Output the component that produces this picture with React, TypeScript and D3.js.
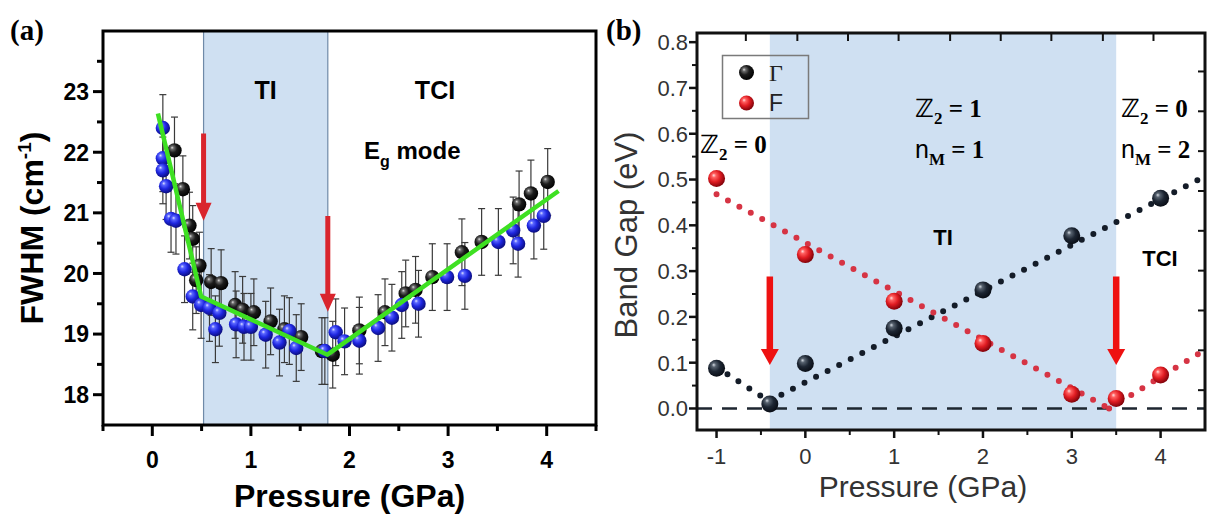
import React from 'react';
import * as d3 from 'd3';

const W = 1211;
const H = 519;
const SANS = "'Liberation Sans', Arial, Helvetica, sans-serif";
const SERIF = "'Liberation Serif', 'Times New Roman', 'DejaVu Serif', serif";
const DS = "'DejaVu Serif', 'DejaVu Sans', serif";

// ---------- Panel (a) data ----------
const aBlack: [number, number][] = [
  [0.225, 22.03], [0.31, 21.39], [0.377, 20.79], [0.41, 20.57], [0.478, 20.13],
  [0.445, 19.89], [0.597, 19.86], [0.698, 19.84], [0.84, 19.48], [0.916, 19.4],
  [1.03, 19.36], [1.2, 19.21], [1.34, 19.08], [1.51, 18.95], [1.72, 18.72],
  [1.83, 18.66], [2.1, 19.06], [2.36, 19.36], [2.57, 19.67], [2.67, 19.73],
  [2.84, 19.94], [3.14, 20.35], [3.34, 20.52], [3.72, 21.14], [3.84, 21.32], [4.01, 21.51],
];
const aBlue: [number, number][] = [
  [0.107, 22.4], [0.107, 21.9], [0.107, 21.7], [0.14, 21.44], [0.19, 20.9], [0.24, 20.87],
  [0.327, 20.07], [0.41, 19.62], [0.495, 19.48], [0.58, 19.43], [0.68, 19.35], [0.64, 19.08],
  [0.85, 19.16], [0.93, 19.12], [1.0, 19.12], [1.15, 18.99], [1.29, 18.86], [1.39, 19.05],
  [1.46, 18.77], [1.75, 18.72], [1.86, 19.03], [1.95, 18.88], [2.1, 18.89], [2.29, 19.1],
  [2.43, 19.27], [2.53, 19.48], [2.7, 19.5], [2.99, 19.94], [3.17, 19.96], [3.51, 20.52],
  [3.66, 20.71], [3.71, 20.49], [3.87, 20.79], [3.97, 20.95],
];
const aErr = 0.55;
const aFit: [number, number][] = [[0.057, 22.64], [0.495, 19.62], [1.776, 18.66], [4.12, 21.36]];
const aShade: [number, number] = [0.52, 1.78];
const aArrows = [
  { x: 0.52, from: 22.31, to: 20.87 },
  { x: 1.78, from: 20.95, to: 19.37 },
];
const aXTicks = [0, 1, 2, 3, 4];
const aXMinor = [-0.5, 0.5, 1.5, 2.5, 3.5, 4.5];
const aYTicks = [18, 19, 20, 21, 22, 23];
const aYMinor = [18.5, 19.5, 20.5, 21.5, 22.5, 23.5];

// ---------- Panel (b) data ----------
const gammaX = [-1, -0.4, 0, 1, 2, 3, 4];
const gammaY = [0.088, 0.01, 0.098, 0.175, 0.259, 0.377, 0.459];
const fX = [-1, 0, 1, 2, 3, 3.5, 4];
const fY = [0.502, 0.336, 0.234, 0.142, 0.031, 0.022, 0.073];
const gammaFits: [number, number][][] = [
  [[-1, 0.09], [-0.4, 0.015]],
  [[-0.4, 0.017], [4.5, 0.507]],
];
const fFits: [number, number][][] = [
  [[-1, 0.468], [3.42, 0.0]],
  [[3.42, 0.0], [4.5, 0.128]],
];
const bShade: [number, number] = [-0.4, 3.5];
const bArrows = [
  { x: -0.4, from: 0.288, to: 0.095 },
  { x: 3.5, from: 0.288, to: 0.095 },
];
const bXTicks = [-1, 0, 1, 2, 3, 4];
const bXMinor = [-0.5, 0.5, 1.5, 2.5, 3.5];
const bYTicks = [0, 0.1, 0.2, 0.3, 0.4, 0.5, 0.6, 0.7, 0.8];
const bYMinor = [0.05, 0.15, 0.25, 0.35, 0.45, 0.55, 0.65, 0.75];
const bTopTicks = [-0.67, -0.09, 0.48, 1.05, 1.63, 2.2, 2.77, 3.35, 3.92];
const bRightTicks = [0.04, 0.127, 0.214, 0.301, 0.388, 0.475, 0.562, 0.649, 0.736];

// ---------- scales ----------
const xA = d3.scaleLinear().domain([-0.5, 4.5]).range([103, 596]);
const yA = d3.scaleLinear().domain([17.5, 24]).range([425, 31]);
const xB = d3.scaleLinear().domain([-1.22, 4.5]).range([697, 1205]);
const yB = d3.scaleLinear().domain([-0.047, 0.82]).range([430, 33]);

function arrowPath(x: number, y0: number, y1: number, shaft: number, headW: number, headL: number) {
  const p = d3.path();
  p.moveTo(x - shaft / 2, y0);
  p.lineTo(x + shaft / 2, y0);
  p.lineTo(x + shaft / 2, y1 - headL);
  p.lineTo(x + headW / 2, y1 - headL);
  p.lineTo(x, y1);
  p.lineTo(x - headW / 2, y1 - headL);
  p.lineTo(x - shaft / 2, y1 - headL);
  p.closePath();
  return p.toString();
}

function Grad({ id, stops }: { id: string; stops: [number, string][] }) {
  return (
    <radialGradient id={id} cx="0.42" cy="0.4" r="0.62" fx="0.33" fy="0.3">
      {stops.map(([o, c], i) => (
        <stop key={i} offset={o} stopColor={c} />
      ))}
    </radialGradient>
  );
}

function Z2({ x, y, v }: { x: number; y: number; v: string }) {
  return (
    <text x={x} y={y} fontFamily={SERIF} fontWeight="bold" fontSize={25}>
      <tspan fontFamily={DS}>ℤ</tspan><tspan dy={7} fontSize={17}>2</tspan><tspan dy={-7}> = {v}</tspan>
    </text>
  );
}

function NM({ x, y, v }: { x: number; y: number; v: string }) {
  return (
    <text x={x} y={y} fontFamily={SERIF} fontWeight="bold" fontSize={25}>
      <tspan fontFamily={SANS} fontWeight="normal">n</tspan><tspan dy={7} fontSize={17}>M</tspan><tspan dy={-7}> = {v}</tspan>
    </text>
  );
}

export default function App() {
  const lineA = d3.line<[number, number]>().x((d) => xA(d[0])).y((d) => yA(d[1]));
  const lineB = d3.line<[number, number]>().x((d) => xB(d[0])).y((d) => yB(d[1]));
  const aL = xA.range()[0], aR = xA.range()[1], aT = yA.range()[1], aBt = yA.range()[0];
  const bL = xB.range()[0], bR = xB.range()[1], bT = yB.range()[1], bBt = yB.range()[0];

  return (
    <svg width={W} height={H} style={{ position: 'absolute', left: 0, top: 0, background: '#fff' }}>
      <defs>
        <Grad id="gBlack" stops={[[0, '#e0e0e0'], [0.18, '#6a6a6a'], [0.5, '#1c1c1c'], [1, '#000']]} />
        <Grad id="gBlue" stops={[[0, '#dfe2ff'], [0.2, '#5a66ff'], [0.55, '#1e26e0'], [1, '#0a0c78']]} />
        <Grad id="gNavy" stops={[[0, '#d4dae2'], [0.2, '#56616e'], [0.55, '#1d2633'], [1, '#080c14']]} />
        <Grad id="gRed" stops={[[0, '#ffe0e0'], [0.2, '#ff6060'], [0.55, '#e01c22'], [1, '#7a0008']]} />
        <clipPath id="clipA"><rect x={aL} y={aT} width={aR - aL} height={aBt - aT} /></clipPath>
        <clipPath id="clipB"><rect x={bL} y={bT} width={bR - bL} height={bBt - bT} /></clipPath>
      </defs>

      {/* ================= Panel (a) ================= */}
      <text x={10} y={40} fontFamily={SERIF} fontWeight="bold" fontSize={29}>(a)</text>
      <rect x={xA(aShade[0])} y={aT} width={xA(aShade[1]) - xA(aShade[0])} height={aBt - aT} fill="#cfe0f2" />
      {aShade.map((v, i) => (
        <line key={i} x1={xA(v)} x2={xA(v)} y1={aT} y2={aBt} stroke="#6f8aa8" strokeWidth={1.2} />
      ))}

      <g clipPath="url(#clipA)">
        {[...aBlack, ...aBlue].map(([x, y], i) => (
          <g key={i} stroke="#3a3a3a" strokeWidth={1.2}>
            <line x1={xA(x)} x2={xA(x)} y1={yA(y - aErr)} y2={yA(y + aErr)} />
            <line x1={xA(x) - 3.5} x2={xA(x) + 3.5} y1={yA(y - aErr)} y2={yA(y - aErr)} />
            <line x1={xA(x) - 3.5} x2={xA(x) + 3.5} y1={yA(y + aErr)} y2={yA(y + aErr)} />
          </g>
        ))}
        {aBlack.map(([x, y], i) => (
          <circle key={'k' + i} cx={xA(x)} cy={yA(y)} r={7.2} fill="url(#gBlack)" />
        ))}
        {aBlue.map(([x, y], i) => (
          <circle key={'b' + i} cx={xA(x)} cy={yA(y)} r={7.2} fill="url(#gBlue)" />
        ))}
        <path d={lineA(aFit) || ''} fill="none" stroke="#3ee022" strokeWidth={4.5} strokeLinejoin="round" />
      </g>
      {aArrows.map((a, i) => (
        <path key={i} d={arrowPath(xA(a.x), yA(a.from), yA(a.to), 5, 16, 18)} fill="#d9252d" />
      ))}

      <text x={(xA(aShade[0]) + xA(aShade[1])) / 2} y={99} textAnchor="middle" fontFamily={SANS} fontWeight="bold" fontSize={25}>TI</text>
      <text x={435} y={99} textAnchor="middle" fontFamily={SANS} fontWeight="bold" fontSize={25}>TCI</text>
      <text x={364} y={159} fontFamily={SANS} fontWeight="bold" fontSize={24}>
        E<tspan dy={8} fontSize={16}>g</tspan><tspan dy={-8}> mode</tspan>
      </text>

      {/* axes a */}
      <rect x={aL} y={aT} width={aR - aL} height={aBt - aT} fill="none" stroke="#000" strokeWidth={3} />
      {aYTicks.map((t) => (
        <g key={t}>
          <line x1={aL - 10} x2={aL} y1={yA(t)} y2={yA(t)} stroke="#000" strokeWidth={3} />
          <text x={aL - 14} y={yA(t)} dy="0.36em" textAnchor="end" fontFamily={SANS} fontWeight="bold" fontSize={23}>{t}</text>
        </g>
      ))}
      {aYMinor.map((t) => (
        <line key={t} x1={aL - 6} x2={aL} y1={yA(t)} y2={yA(t)} stroke="#000" strokeWidth={3} />
      ))}
      {aXTicks.map((t) => (
        <g key={t}>
          <line x1={xA(t)} x2={xA(t)} y1={aBt} y2={aBt + 11} stroke="#000" strokeWidth={3} />
          <text x={xA(t)} y={468} textAnchor="middle" fontFamily={SANS} fontWeight="bold" fontSize={23}>{t}</text>
        </g>
      ))}
      {aXMinor.map((t) => (
        <line key={t} x1={xA(t)} x2={xA(t)} y1={aBt} y2={aBt + 6} stroke="#000" strokeWidth={3} />
      ))}
      <text x={(aL + aR) / 2} y={507} textAnchor="middle" fontFamily={SANS} fontWeight="bold" fontSize={32}>Pressure (GPa)</text>
      <text transform={`translate(43, ${(aT + aBt) / 2}) rotate(-90)`} textAnchor="middle" fontFamily={SANS} fontWeight="bold" fontSize={32}>
        FWHM (cm<tspan dy={-12} fontSize={19}>-1</tspan><tspan dy={12}>)</tspan>
      </text>

      {/* ================= Panel (b) ================= */}
      <text x={606} y={40} fontFamily={SERIF} fontWeight="bold" fontSize={29}>(b)</text>
      <rect x={xB(bShade[0])} y={bT} width={xB(bShade[1]) - xB(bShade[0])} height={bBt - bT} fill="#cfe0f2" />

      <g clipPath="url(#clipB)">
        <line x1={bL} x2={bR} y1={yB(0)} y2={yB(0)} stroke="#1e2630" strokeWidth={2.5} strokeDasharray="15 10" />
        {gammaFits.map((seg, i) => (
          <path key={'gf' + i} d={lineB(seg) || ''} fill="none" stroke="#141c28" strokeWidth={6} strokeLinecap="round" strokeDasharray="0 13" />
        ))}
        {fFits.map((seg, i) => (
          <path key={'ff' + i} d={lineB(seg) || ''} fill="none" stroke="#d63444" strokeWidth={6} strokeLinecap="round" strokeDasharray="0 13" />
        ))}
        {gammaX.map((x, i) => (
          <circle key={'g' + i} cx={xB(x)} cy={yB(gammaY[i])} r={8.5} fill="url(#gNavy)" />
        ))}
        {fX.map((x, i) => (
          <circle key={'f' + i} cx={xB(x)} cy={yB(fY[i])} r={8.5} fill="url(#gRed)" />
        ))}
      </g>
      {bArrows.map((a, i) => (
        <path key={i} d={arrowPath(xB(a.x), yB(a.from), yB(a.to), 6.5, 18, 16)} fill="#ee1111" />
      ))}

      {/* legend */}
      <rect x={722.5} y={55.5} width={86} height={63} fill="none" stroke="#7a7a7a" strokeWidth={1.5} />
      <circle cx={746.5} cy={72.5} r={7.5} fill="url(#gBlack)" />
      <circle cx={746.5} cy={103} r={7.5} fill="url(#gRed)" />
      <text x={769} y={81} fontFamily={SERIF} fontSize={24} fill="#222">Γ</text>
      <text x={769} y={111} fontFamily={SANS} fontSize={23} fill="#222">F</text>

      {/* topological labels */}
      <Z2 x={700} y={153} v="0" />
      <Z2 x={915} y={117} v="1" />
      <NM x={915} y={158} v="1" />
      <Z2 x={1121} y={117} v="0" />
      <NM x={1121} y={158} v="2" />
      <text x={943} y={245} textAnchor="middle" fontFamily={SANS} fontWeight="bold" fontSize={22}>TI</text>
      <text x={1160} y={266} textAnchor="middle" fontFamily={SANS} fontWeight="bold" fontSize={22}>TCI</text>

      {/* axes b */}
      <rect x={bL} y={bT} width={bR - bL} height={bBt - bT} fill="none" stroke="#111" strokeWidth={3} />
      {bYTicks.map((t) => (
        <g key={t}>
          <line x1={bL - 8} x2={bL} y1={yB(t)} y2={yB(t)} stroke="#111" strokeWidth={2.5} />
          <text x={bL - 9} y={yB(t)} dy="0.36em" textAnchor="end" fontFamily={SANS} fontSize={22} fill="#333">{t.toFixed(1)}</text>
        </g>
      ))}
      {bYMinor.map((t) => (
        <line key={t} x1={bL - 5} x2={bL} y1={yB(t)} y2={yB(t)} stroke="#111" strokeWidth={2} />
      ))}
      {bXTicks.map((t) => (
        <g key={t}>
          <line x1={xB(t)} x2={xB(t)} y1={bBt} y2={bBt + 8} stroke="#111" strokeWidth={2.5} />
          <text x={xB(t)} y={464} textAnchor="middle" fontFamily={SANS} fontSize={22} fill="#333">{t}</text>
        </g>
      ))}
      {bXMinor.map((t) => (
        <line key={t} x1={xB(t)} x2={xB(t)} y1={bBt} y2={bBt + 5} stroke="#111" strokeWidth={2} />
      ))}
      {bTopTicks.map((t) => (
        <line key={t} x1={xB(t)} x2={xB(t)} y1={bT} y2={bT + 8} stroke="#111" strokeWidth={2} />
      ))}
      {bRightTicks.map((t) => (
        <line key={t} x1={bR - 7} x2={bR} y1={yB(t)} y2={yB(t)} stroke="#111" strokeWidth={2} />
      ))}
      <text x={923} y={497} textAnchor="middle" fontFamily={SANS} fontSize={30} fill="#333">Pressure (GPa)</text>
      <text transform={`translate(637, 235) rotate(-90)`} textAnchor="middle" fontFamily={SANS} fontSize={31} fill="#333">Band Gap (eV)</text>
    </svg>
  );
}
